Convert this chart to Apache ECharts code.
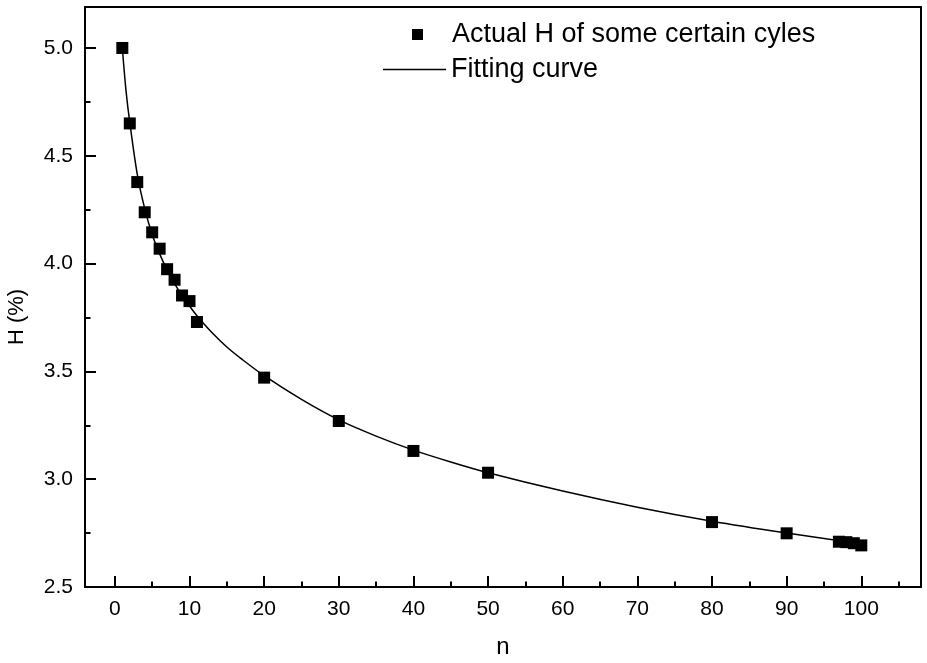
<!DOCTYPE html>
<html>
<head>
<meta charset="utf-8">
<script src="https://cdn.jsdelivr.net/npm/echarts@6/dist/echarts.min.js"></script>
<style>
  html, body { margin: 0; padding: 0; background: #fff; }
  #chart { width: 927px; height: 663px; }
</style>
</head>
<body>
<div id="chart"></div>
<script>
// measured points
const nActual = [1, 2, 3, 4, 5, 6, 7, 8, 9, 10, 11, 20, 30, 40, 50, 80, 90, 97, 98, 99, 100];
const hActual = [5.00, 4.650, 4.378, 4.238, 4.145, 4.069, 3.974, 3.925, 3.852, 3.826, 3.729,
                 3.471, 3.270, 3.131, 3.030, 2.801, 2.749, 2.710, 2.708, 2.703, 2.693];

// fitting curve
const nFit = [1, 1.5, 2, 3, 4, 5, 6, 7, 8, 9, 10, 11, 13, 15, 17, 20, 25, 30, 35, 40, 45, 50, 60, 70, 80, 90, 100];
const hFit = [5.00, 4.80, 4.655, 4.415, 4.255, 4.135, 4.045, 3.97, 3.907, 3.852, 3.803, 3.758, 3.68, 3.613,
              3.557, 3.48, 3.37, 3.275, 3.20, 3.135, 3.08, 3.03, 2.945, 2.87, 2.805, 2.75, 2.70];

const xMajor = [0, 10, 20, 30, 40, 50, 60, 70, 80, 90, 100];
const xMinor = [5, 15, 25, 35, 45, 55, 65, 75, 85, 95, 105];
const yMajor = [2.5, 3.0, 3.5, 4.0, 4.5, 5.0];
const yMinor = [2.75, 3.25, 3.75, 4.25, 4.75];

const FONT = 'Liberation Sans, Arial, sans-serif';
const chart = echarts.init(document.getElementById('chart'));

const tickStyle = { color: '#000', width: 2 };

const option = {
    animation: false,
    backgroundColor: '#fff',
    grid: {
        left: 85, top: 7, right: 6, bottom: 76,
        outerBoundsMode: 'none',
        show: true, borderColor: '#000', borderWidth: 2
    },
    legend: [
        {
            data: [{ name: 'Actual H of some certain cyles', icon: 'rect' }],
            left: 412, top: 21, padding: 0,
            itemWidth: 11, itemHeight: 11,
            textStyle: { fontFamily: FONT, fontSize: 27, color: '#000', padding: [0, 0, 0, 24] }
        },
        {
            // plain line icon, no symbol
            data: [{ name: 'Fitting curve', icon: 'rect' }],
            left: 383, top: 56, padding: 0,
            itemWidth: 63, itemHeight: 1.5,
            itemStyle: { color: '#000' },
            textStyle: { fontFamily: FONT, fontSize: 27, color: '#000' }
        }
    ],
    xAxis: [
        {
            type: 'value', min: -4, max: 108,
            splitLine: { show: false },
            axisLine: { show: true, onZero: false, lineStyle: tickStyle },
            name: 'n', nameLocation: 'middle', nameGap: 48,
            nameTextStyle: { fontFamily: FONT, fontSize: 24, color: '#000' },
            axisTick: { inside: true, length: 11, customValues: xMajor, lineStyle: tickStyle },
            axisLabel: { customValues: xMajor, margin: 12, fontFamily: FONT, fontSize: 21, color: '#000' }
        },
        {
            type: 'value', position: 'bottom', min: -4, max: 108,
            splitLine: { show: false }, axisLabel: { show: false },
            axisLine: { show: false, onZero: false },
            axisTick: { inside: true, length: 5.5, customValues: xMinor, lineStyle: tickStyle }
        }
    ],
    yAxis: [
        {
            type: 'value', min: 2.5, max: 5.19,
            splitLine: { show: false },
            axisLine: { show: true, onZero: false, lineStyle: tickStyle },
            name: 'H (%)', nameLocation: 'middle', nameGap: 57,
            nameTextStyle: { fontFamily: FONT, fontSize: 22, color: '#000', padding: [0, 40, 0, 0] },
            axisTick: { inside: true, length: 11, customValues: yMajor, lineStyle: tickStyle },
            axisLabel: {
                customValues: yMajor, margin: 12, fontFamily: FONT, fontSize: 21, color: '#000',
                formatter: (v) => v.toFixed(1)
            }
        },
        {
            type: 'value', position: 'left', min: 2.5, max: 5.19,
            splitLine: { show: false }, axisLabel: { show: false },
            axisLine: { show: false, onZero: false },
            axisTick: { inside: true, length: 5.5, customValues: yMinor, lineStyle: tickStyle }
        }
    ],
    series: [
        {
            name: 'Fitting curve',
            type: 'line',
            xAxisIndex: 0, yAxisIndex: 0,
            data: nFit.map((n, i) => [n, hFit[i]]),
            smooth: 0.3,
            symbol: 'none',
            lineStyle: { color: '#000', width: 1.5 },
            itemStyle: { color: '#000' },
            z: 2
        },
        {
            name: 'Actual H of some certain cyles',
            type: 'scatter',
            xAxisIndex: 0, yAxisIndex: 0,
            data: nActual.map((n, i) => [n, hActual[i]]),
            symbol: 'rect',
            symbolSize: 12,
            itemStyle: { color: '#000', opacity: 1 },
            z: 3
        }
    ]
};

chart.setOption(option);
window.addEventListener('resize', () => {
    chart.resize();
});
</script>
</body>
</html>
